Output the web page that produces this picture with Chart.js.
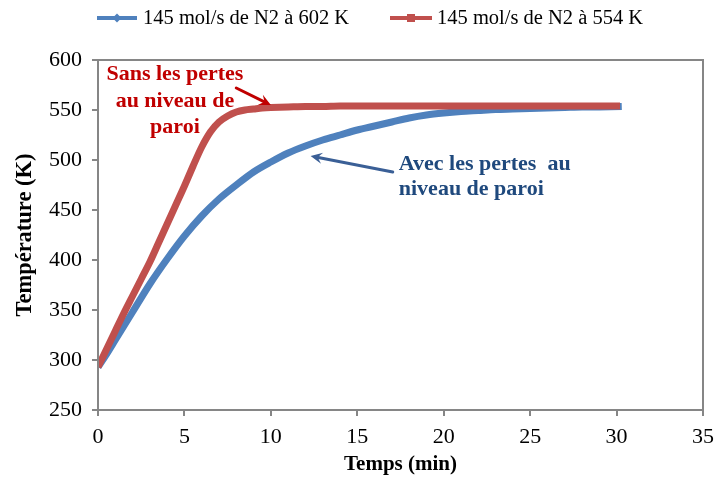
<!DOCTYPE html>
<html>
<head>
<meta charset="utf-8">
<script src="https://cdn.jsdelivr.net/npm/chart.js@4/dist/chart.umd.min.js"></script>
<style>
html,body{margin:0;padding:0;background:#fff;}
#wrap{width:716px;height:478px;position:relative;}
.pre{font-family:'Liberation Serif';position:absolute;left:-9999px;top:0;}
</style>
</head>
<body>
<span class="pre">a</span><span class="pre" style="font-weight:bold">a</span>
<div id="wrap"><canvas id="c" width="716" height="478"></canvas></div>
<script>
// ---- Data ----
const seriesNames = ["145 mol/s de N2 à 602 K", "145 mol/s de N2 à 554 K"];

const blueTime = [0, 0.5, 1, 1.5, 2, 3, 4, 5, 6, 7, 8, 9, 10, 11, 12, 13, 14, 15, 16, 17, 18, 19, 20, 21, 22, 23, 24, 25, 26, 27, 28, 29, 30.3];
const blueTemp = [293, 306, 320, 334, 348, 376, 401, 424, 444, 461, 475, 488, 498, 507, 514, 520, 525, 530, 534, 538, 542, 545, 547, 548.5, 549.5, 550.5, 551, 551.5, 552, 552.5, 553, 553, 553.5];

const redTime = [0, 0.5, 1, 1.5, 2, 2.5, 3, 3.5, 4, 4.5, 5, 5.5, 6, 6.5, 7, 7.5, 8, 8.5, 9, 9.5, 10, 11, 12, 13, 14, 16, 18, 20, 22, 24, 26, 28, 30.2];
const redTemp = [293, 311, 329, 347, 364, 381, 398, 417, 436, 455, 474, 494, 513, 528, 538, 544, 548, 550, 551, 552, 552.5, 553, 553.5, 553.5, 554, 554, 554, 554, 554, 554, 554, 554, 554];

const xTicks = [0, 5, 10, 15, 20, 25, 30, 35];
const yTicks = [250, 300, 350, 400, 450, 500, 550, 600];

const xTitle = "Temps (min)";
const yTitle = "Température (K)";
const redNote = ["Sans les pertes", "au niveau de", "paroi"];
const blueNote = ["Avec les pertes  au", "niveau de paroi"];

// ---- Build chart ----
const toPts = (xs, ys) => xs.map((x, i) => ({x: x, y: ys[i]}));
const BLUE = "#4F81BD", RED = "#C0504D";
const AXIS = "#868686";
const SERIF = "'Liberation Serif', 'Times New Roman', serif";

function arrow(ctx, x1, y1, x2, y2, color, w, head) {
  const a = Math.atan2(y2 - y1, x2 - x1);
  ctx.save();
  ctx.strokeStyle = color; ctx.fillStyle = color; ctx.lineWidth = w; ctx.lineCap = "round";
  ctx.beginPath();
  ctx.moveTo(x1, y1);
  ctx.lineTo(x2 - Math.cos(a) * head * 0.6, y2 - Math.sin(a) * head * 0.6);
  ctx.stroke();
  ctx.beginPath();
  ctx.moveTo(x2, y2);
  ctx.lineTo(x2 - head * Math.cos(a - 0.45), y2 - head * Math.sin(a - 0.45));
  ctx.lineTo(x2 - head * 0.55 * Math.cos(a), y2 - head * 0.55 * Math.sin(a));
  ctx.lineTo(x2 - head * Math.cos(a + 0.45), y2 - head * Math.sin(a + 0.45));
  ctx.closePath();
  ctx.fill();
  ctx.restore();
}

const decor = {
  id: "decor",
  afterDraw(chart) {
    const ctx = chart.ctx, xs = chart.scales.x, ys = chart.scales.y, ca = chart.chartArea;
    ctx.save();
    ctx.strokeStyle = AXIS; ctx.lineWidth = 2;
    ctx.strokeRect(ca.left, ca.top, ca.right - ca.left, ca.bottom - ca.top);
    ctx.restore();

    const leg = [
      {x0: 97, x1: 137, tx: 143, color: BLUE, style: "diamond", name: seriesNames[0]},
      {x0: 390, x1: 432, tx: 437, color: RED, style: "square", name: seriesNames[1]}
    ];
    ctx.save();
    ctx.font = "20.5px " + SERIF;
    ctx.textBaseline = "middle";
    leg.forEach(l => {
      const y = 18;
      ctx.strokeStyle = l.color; ctx.lineWidth = 4;
      ctx.beginPath(); ctx.moveTo(l.x0, y); ctx.lineTo(l.x1, y); ctx.stroke();
      const mx = (l.x0 + l.x1) / 2;
      ctx.fillStyle = l.color;
      ctx.beginPath();
      if (l.style === "diamond") {
        ctx.moveTo(mx, y - 4.5); ctx.lineTo(mx + 4.5, y); ctx.lineTo(mx, y + 4.5); ctx.lineTo(mx - 4.5, y);
      } else {
        ctx.rect(mx - 4, y - 4, 8, 8);
      }
      ctx.closePath(); ctx.fill();
      ctx.fillStyle = "#000";
      ctx.fillText(l.name, l.tx, y + 1);
    });
    ctx.restore();

    ctx.save();
    ctx.font = "bold 22px " + SERIF;
    ctx.textBaseline = "alphabetic";
    ctx.fillStyle = "#C00000";
    ctx.textAlign = "center";
    const rx = xs.getPixelForValue(4.45);
    [580, 553.5, 527].forEach((T, i) => ctx.fillText(redNote[i], rx, ys.getPixelForValue(T)));
    ctx.fillStyle = "#1F497D";
    ctx.textAlign = "left";
    const bx = xs.getPixelForValue(17.4);
    [490.5, 465].forEach((T, i) => ctx.fillText(blueNote[i], bx, ys.getPixelForValue(T)));
    ctx.restore();

    arrow(ctx, xs.getPixelForValue(8.0), ys.getPixelForValue(572), xs.getPixelForValue(10.0), ys.getPixelForValue(555), "#C00000", 3, 13);
    arrow(ctx, xs.getPixelForValue(17.05), ys.getPixelForValue(488), xs.getPixelForValue(12.3), ys.getPixelForValue(504), "#3A5F96", 3, 13);
  }
};

function draw() {
  new Chart(document.getElementById("c"), {
    type: "scatter",
    data: {
      datasets: [
        {label: seriesNames[0], data: toPts(blueTime, blueTemp), showLine: true, borderColor: BLUE, backgroundColor: BLUE,
         borderWidth: 7, pointRadius: 0, tension: 0.3, order: 2},
        {label: seriesNames[1], data: toPts(redTime, redTemp), showLine: true, borderColor: RED, backgroundColor: RED,
         borderWidth: 7, pointRadius: 0, tension: 0.3, order: 1}
      ]
    },
    options: {
      responsive: false,
      animation: false,
      events: [],
      layout: {padding: {top: 60, right: 13, left: 0, bottom: 0}},
      plugins: {legend: {display: false}, tooltip: {enabled: false}},
      scales: {
        x: {
          type: "linear", min: 0, max: 35,
          afterBuildTicks: s => { s.ticks = xTicks.map(v => ({value: v})); },
          afterFit: s => { s.height = 68; s.paddingRight = 0; s.paddingLeft = 0; },
          grid: {display: true, drawOnChartArea: false, drawTicks: true, tickLength: 6, color: AXIS, lineWidth: 2},
          border: {display: true, color: AXIS, width: 2},
          ticks: {color: "#000", font: {family: SERIF, size: 22}, padding: 8, maxRotation: 0},
          title: {display: true, text: xTitle, color: "#000", font: {family: SERIF, size: 21, weight: "bold"}, padding: {top: 0, bottom: 1}}
        },
        y: {
          type: "linear", min: 250, max: 600,
          afterBuildTicks: s => { s.ticks = yTicks.map(v => ({value: v})); },
          afterFit: s => { s.width = 98; s.paddingTop = 0; s.paddingBottom = 0; },
          grid: {display: true, drawOnChartArea: false, drawTicks: true, tickLength: 6, color: AXIS, lineWidth: 2},
          border: {display: true, color: AXIS, width: 2},
          ticks: {color: "#000", font: {family: SERIF, size: 22}, padding: 10},
          title: {display: true, text: yTitle, color: "#000", font: {family: SERIF, size: 22.5, weight: "bold"}, padding: {top: 12, bottom: 0}}
        }
      }
    },
    plugins: [decor]
  });
}

Promise.all([
  document.fonts.load("20px 'Liberation Serif'"),
  document.fonts.load("bold 20px 'Liberation Serif'")
]).then(draw, draw);
</script>
</body>
</html>
